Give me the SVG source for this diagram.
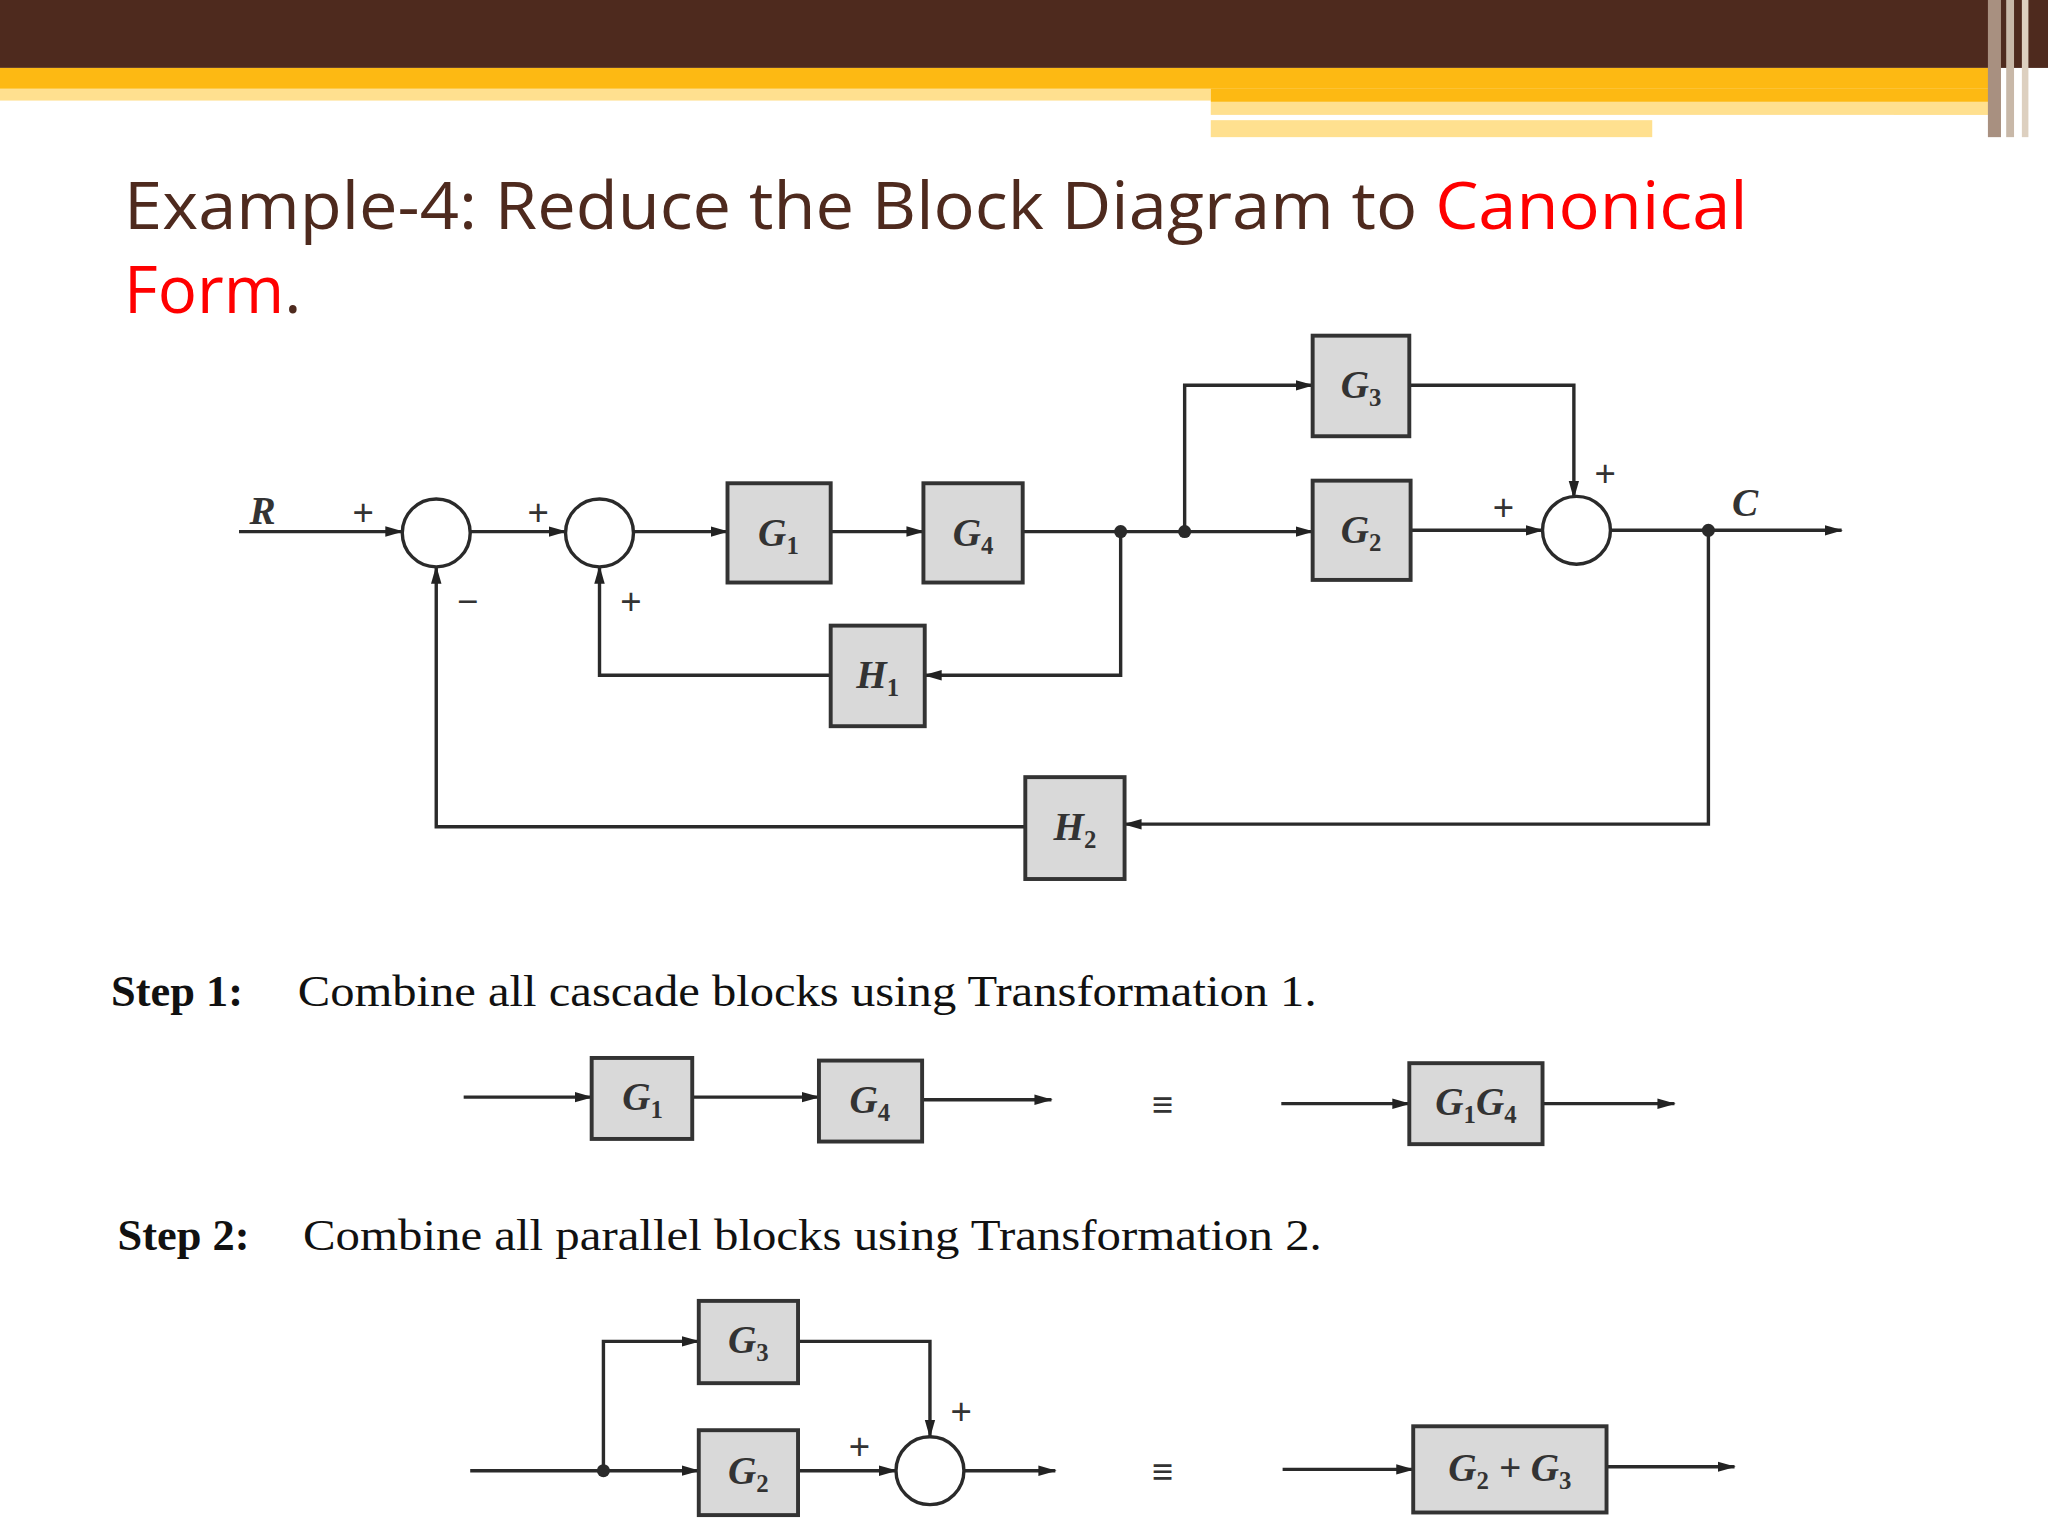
<svg xmlns="http://www.w3.org/2000/svg" width="2048" height="1536" viewBox="0 0 2048 1536">
<defs>
<marker id="ar" markerWidth="14" markerHeight="10" refX="13" refY="5" orient="auto" markerUnits="userSpaceOnUse"><path d="M0,1 L14,5 L0,9 Z" fill="#222"/></marker>
<style>
.w{stroke:#2a2a2a;stroke-width:2.6;fill:none}
.a{marker-end:url(#ar)}
.bx{fill:#d9d9d9;stroke:#333;stroke-width:3}
.sm{fill:#fff;stroke:#2a2a2a;stroke-width:2.6}
.lb{font-family:"Liberation Serif",serif;font-style:italic;font-weight:bold;font-size:30px;fill:#333;text-anchor:middle}
.sb{font-size:19px;font-style:normal}
.pm{font-family:"Liberation Sans",sans-serif;font-size:28px;fill:#333;text-anchor:middle}
.st{font-family:"Liberation Serif",serif;font-size:34px;fill:#111}
.dot{fill:#2a2a2a}
</style>
</defs>
<rect width="2048" height="1536" fill="#fff"/>
<g transform="scale(1.30612)">
<g id="header">
<rect x="0" y="0" width="1568" height="52" fill="#4E2A1E"/>
<rect x="0" y="52" width="1530" height="16" fill="#FDB913"/>
<rect x="0" y="68" width="927" height="9" fill="#FFE08F"/>
<rect x="927" y="68" width="603" height="10" fill="#FDB913"/>
<rect x="927" y="78" width="603" height="10" fill="#FFE08F"/>
<rect x="927" y="88" width="523" height="4" fill="#fff"/>
<rect x="927" y="92" width="338" height="13" fill="#FFE08F"/>
<rect x="1522" y="0" width="10" height="105" fill="#a89080"/>
<rect x="1536" y="0" width="6" height="105" fill="#c8b8a8"/>
<rect x="1548" y="0" width="5" height="105" fill="#ddd0c0"/>
</g>
<g id="title">
<text x="95" y="175" font-family="Open Sans, sans-serif" font-size="50" fill="#4E2A1E" textLength="1243" lengthAdjust="spacingAndGlyphs">Example-4: Reduce the Block Diagram to <tspan fill="#FF0000">Canonical</tspan></text>
<text x="95" y="240" font-family="Open Sans, sans-serif" font-size="50" fill="#FF0000">Form<tspan fill="#4E2A1E">.</tspan></text>
</g>
<g id="connectors">
<path class="w a" d="M183,407 H308"/>
<path class="w a" d="M360,407 H433"/>
<path class="w a" d="M485,407 H557"/>
<path class="w a" d="M636,407 H707"/>
<path class="w a" d="M783,407 H1005"/>
<path class="w a" d="M907,407 V295 H1005"/>
<path class="w a" d="M1079,295 H1205 V381"/>
<path class="w a" d="M1080,406 H1181"/>
<path class="w a" d="M1233,406 H1410"/>
<path class="w a" d="M858,407 V517 H708"/>
<path class="w a" d="M636,517 H459 V434"/>
<path class="w a" d="M1308,406 V631 H861"/>
<path class="w a" d="M785,633 H334 V434"/>
<path class="w a" d="M355,840 H453"/>
<path class="w a" d="M530,840 H627"/>
<path class="w a" d="M706,842 H805"/>
<path class="w a" d="M981,845 H1079"/>
<path class="w a" d="M1181,845 H1282"/>
<path class="w a" d="M360,1126 H535"/>
<path class="w a" d="M462,1126 V1027 H535"/>
<path class="w a" d="M611,1027 H712 V1100"/>
<path class="w a" d="M611,1126 H686"/>
<path class="w a" d="M738,1126 H808"/>
<path class="w a" d="M982,1125 H1082"/>
<path class="w a" d="M1230,1123 H1328"/>
<circle class="dot" cx="858" cy="407" r="5"/>
<circle class="dot" cx="907" cy="407" r="5"/>
<circle class="dot" cx="1308" cy="406" r="5"/>
<circle class="dot" cx="462" cy="1126" r="5"/>
</g>
<g id="sum1"><circle class="sm" cx="334" cy="408" r="26"/><text class="pm" x="278" y="402">+</text><text class="pm" x="358" y="470">−</text></g>
<g id="sum2"><circle class="sm" cx="459" cy="408" r="26"/><text class="pm" x="412" y="402">+</text><text class="pm" x="483" y="470">+</text></g>
<g id="sum3"><circle class="sm" cx="1207" cy="406" r="26"/><text class="pm" x="1229" y="372">+</text><text class="pm" x="1151" y="398">+</text></g>
<g id="R"><text class="lb" x="201" y="401">R</text></g>
<g id="C"><text class="lb" x="1336" y="395">C</text></g>
<g id="G1"><rect class="bx" x="557" y="370" width="79" height="76"/><text class="lb" x="596" y="418">G<tspan class="sb" dy="6">1</tspan></text></g>
<g id="G4"><rect class="bx" x="707" y="370" width="76" height="76"/><text class="lb" x="745" y="418">G<tspan class="sb" dy="6">4</tspan></text></g>
<g id="G3"><rect class="bx" x="1005" y="257" width="74" height="77"/><text class="lb" x="1042" y="305">G<tspan class="sb" dy="6">3</tspan></text></g>
<g id="G2"><rect class="bx" x="1005" y="368" width="75" height="76"/><text class="lb" x="1042" y="416">G<tspan class="sb" dy="6">2</tspan></text></g>
<g id="H1"><rect class="bx" x="636" y="479" width="72" height="77"/><text class="lb" x="672" y="527">H<tspan class="sb" dy="6">1</tspan></text></g>
<g id="H2"><rect class="bx" x="785" y="595" width="76" height="78"/><text class="lb" x="823" y="643">H<tspan class="sb" dy="6">2</tspan></text></g>
<g id="step1">
<text class="st" x="85" y="770" font-weight="bold">Step 1:</text>
<text class="st" x="228" y="770" textLength="780" lengthAdjust="spacingAndGlyphs">Combine all cascade blocks using Transformation 1.</text>
</g>
<g id="s1G1"><rect class="bx" x="453" y="810" width="77" height="62"/><text class="lb" x="492" y="850">G<tspan class="sb" dy="6">1</tspan></text></g>
<g id="s1G4"><rect class="bx" x="627" y="812" width="79" height="62"/><text class="lb" x="666" y="852">G<tspan class="sb" dy="6">4</tspan></text></g>
<g id="eq1"><text class="pm" x="890" y="855">≡</text></g>
<g id="s1G1G4"><rect class="bx" x="1079" y="814" width="102" height="62"/><text class="lb" x="1130" y="854">G<tspan class="sb" dy="6">1</tspan><tspan dy="-6">G</tspan><tspan class="sb" dy="6">4</tspan></text></g>
<g id="step2">
<text class="st" x="90" y="957" font-weight="bold">Step 2:</text>
<text class="st" x="232" y="957" textLength="780" lengthAdjust="spacingAndGlyphs">Combine all parallel blocks using Transformation 2.</text>
</g>
<g id="s2G3"><rect class="bx" x="535" y="996" width="76" height="63"/><text class="lb" x="573" y="1036">G<tspan class="sb" dy="6">3</tspan></text></g>
<g id="s2G2"><rect class="bx" x="535" y="1095" width="76" height="65"/><text class="lb" x="573" y="1136">G<tspan class="sb" dy="6">2</tspan></text></g>
<g id="s2sum"><circle class="sm" cx="712" cy="1126" r="26"/><text class="pm" x="736" y="1090">+</text><text class="pm" x="658" y="1117">+</text></g>
<g id="eq2"><text class="pm" x="890" y="1136">≡</text></g>
<g id="s2G2G3"><rect class="bx" x="1082" y="1092" width="148" height="66"/><text class="lb" x="1156" y="1134">G<tspan class="sb" dy="6">2</tspan><tspan dy="-6"> + G</tspan><tspan class="sb" dy="6">3</tspan></text></g>
</g>
</svg>
